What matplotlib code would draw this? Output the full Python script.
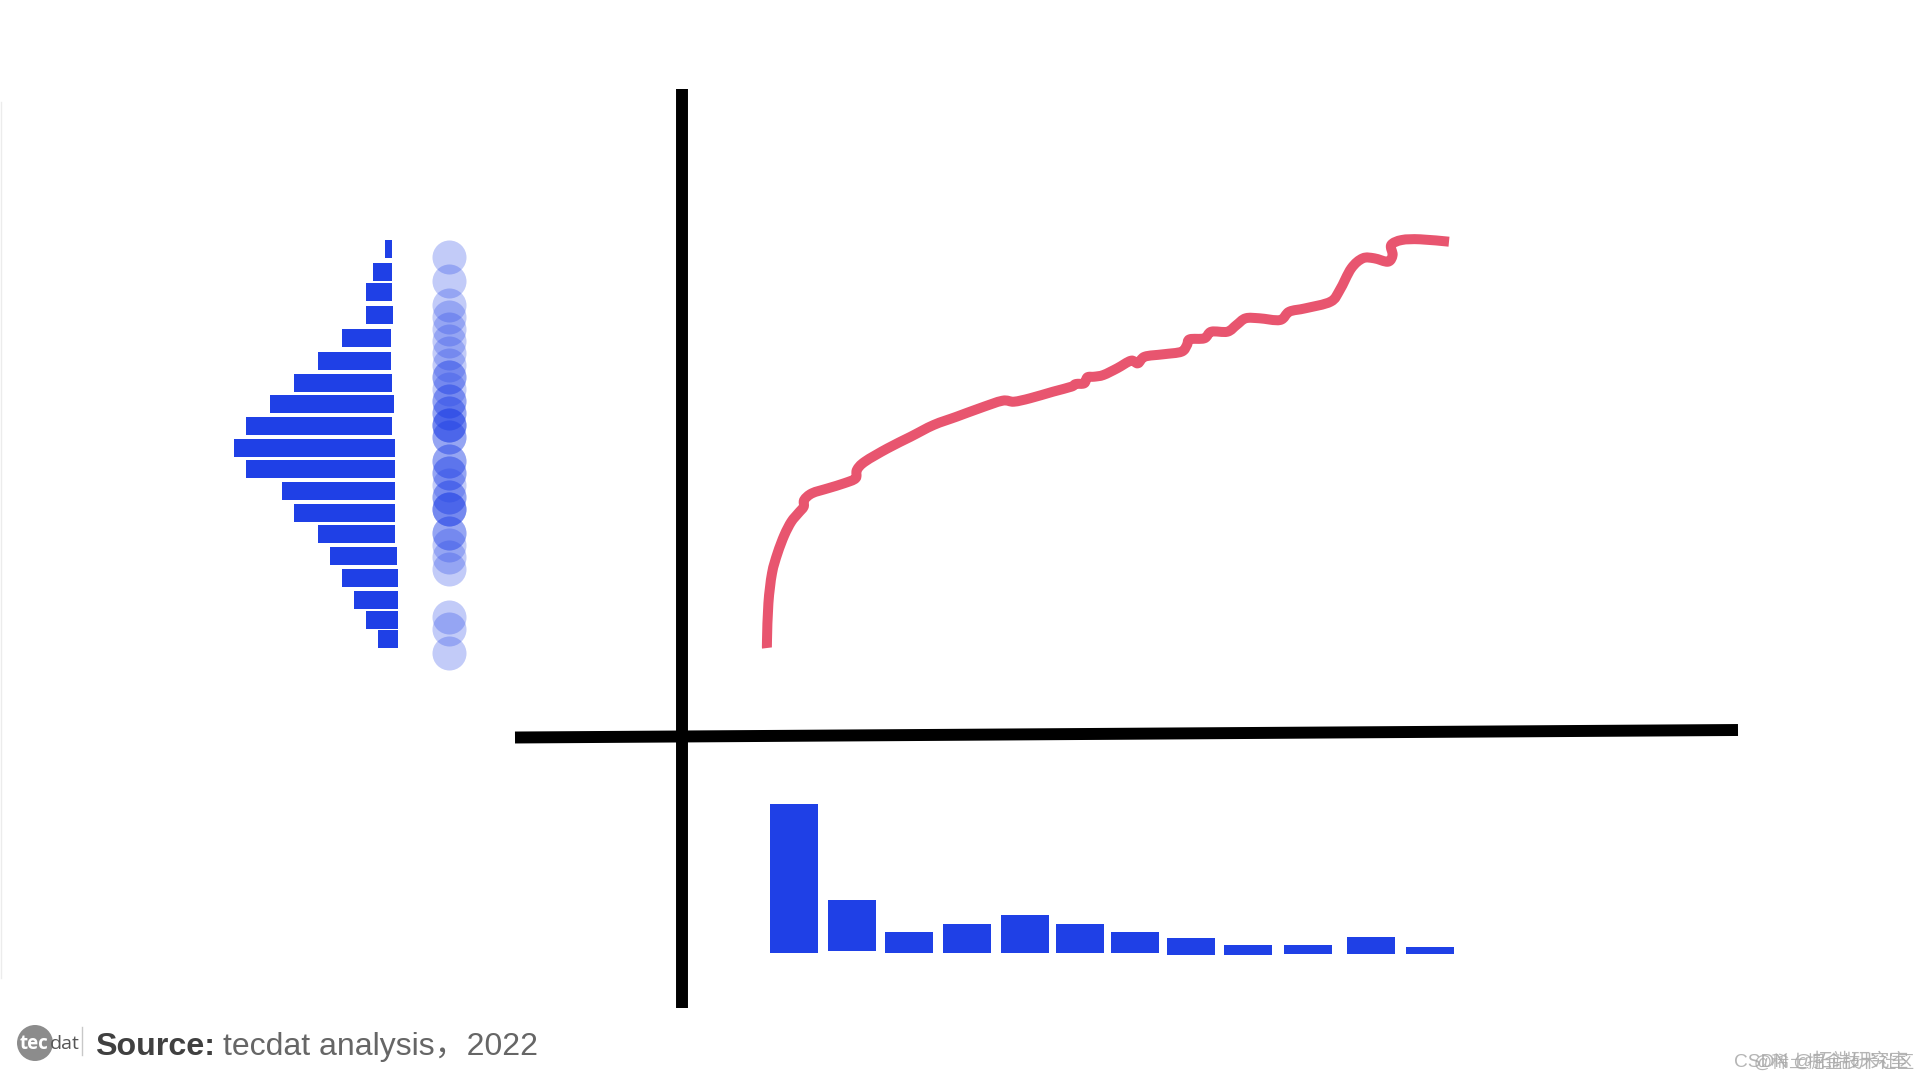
import matplotlib
matplotlib.use("Agg")
import matplotlib.pyplot as plt
from matplotlib.patches import Circle, PathPatch
from matplotlib.path import Path

# ---- data ----
hist_score = [431, 408, 387.7, 364.7, 342, 319, 297, 275.7, 254, 232, 210.7, 189, 167, 146, 124, 102, 80, 60, 41]
hist_count = [0.58, 1.58, 2.17, 2.25, 4.08, 6.08, 8.17, 10.33, 12.17, 13.42, 12.42, 9.42, 8.42, 6.42, 5.58, 4.67, 3.67, 2.67, 1.67]
hist_shift = [0.67, 0.67, 0.67, 0.58, 0.75, 0.75, 0.67, 0.5, 0.67, 0.42, 0.42, 0.42, 0.42, 0.42, 0.25, 0.17, 0.17, 0.17, 0.17]
strip_score = [423, 399, 375, 363, 351, 339, 327, 315, 303, 303, 291, 279, 279, 267, 267, 255, 255, 255, 243, 243, 219, 219, 207, 207, 195,
               183, 183, 171, 171, 171, 147, 147, 135, 123, 111, 63, 51, 27]
line_x = [85, 85, 86.4, 90, 95.5, 102.4, 109.3, 116.2, 121.7, 122.2, 130, 146, 162.1, 173.6, 174.9, 182.8, 205.7, 228.7, 251.6, 274.6,
          297.5, 320.5, 331.9, 348, 371, 389.3, 393.9, 402.2, 405.4, 412.3, 421.4, 435.2, 449, 455.9, 462.7, 481.1, 499.5, 505, 507.7,
          522.4, 529.3, 545.4, 554.5, 563.7, 577.5, 598.1, 607.3, 623.4, 648.6, 657.8, 669.3, 680.8, 692.2, 706, 710.6, 709.2, 719.8,
          738.1, 767]
line_y = [86, 94, 130.7, 160.7, 180.7, 199, 212.3, 220.7, 227.3, 234, 240.7, 245.7, 250.7, 255.7, 264, 272.3, 285.7, 297.3, 309, 317.3,
          325.7, 333.3, 332.3, 335.7, 342.3, 347.3, 350, 350.7, 356.7, 357.3, 359, 365.7, 373.3, 370.7, 377.3, 379.7, 382.3, 389, 394.7,
          395.7, 402.3, 402.3, 409, 415.7, 415.7, 414, 422.3, 425.7, 432.3, 444, 465.7, 475.7, 475.7, 472.3, 479, 489, 494, 494.7, 492.3]
bar_x = [112, 169.9, 227, 285, 343, 398, 453, 509, 566, 626, 689, 748]
bar_height = [149, 51, 21, 29, 38, 29, 21, 17, 10, 9, 17, 7]
bar_base = [-219, -217, -219, -219, -219, -219, -219, -221, -221, -220, -220, -220]
axis_x_line = [-167, 1056]
axis_x_level = [-3.5, 4]
axis_y_line = [-274, 645]

source_bold = "Source:"
source_text = "tecdat analysis，2022"
logo_left = "tec"
logo_right = "dat"
mark_one = "CSDN @拓端研究室"
mark_two = "@稀土掘金技术社区"

BLUE = "#1F40E6"
RED = "#E8556F"
W, H = 1920, 1080
FONT = ["Liberation Sans", "Noto Sans CJK SC", "DejaVu Sans"]
plt.rcParams["font.family"] = FONT

fig = plt.figure(figsize=(19.2, 10.8), dpi=100, facecolor="white")


def panel(x0, y0, x1, y1):
    ax = fig.add_axes([x0 / W, 1 - y1 / H, (x1 - x0) / W, (y1 - y0) / H])
    ax.axis("off")
    return ax


def smooth_path(xs, ys, k=1 / 6):
    """Bezier path through the points, as a smoothed line is drawn."""
    pts = list(zip(xs, ys))
    verts, codes = [pts[0]], [Path.MOVETO]
    for i in range(len(pts) - 1):
        p0 = pts[max(i - 1, 0)]
        p1 = pts[i]
        p2 = pts[i + 1]
        p3 = pts[min(i + 2, len(pts) - 1)]
        c1 = (p1[0] + (p2[0] - p0[0]) * k, p1[1] + (p2[1] - p0[1]) * k)
        c2 = (p2[0] - (p3[0] - p1[0]) * k, p2[1] - (p3[1] - p1[1]) * k)
        verts += [c1, c2, p2]
        codes += [Path.CURVE4] * 3
    return Path(verts, codes)


# histogram: 12 px per count, 1 px per score unit, score 0 at y = 680
ax_h = panel(200, 220, 400, 680)
ax_h.set_xlim(200 / 12, 0)
ax_h.set_ylim(0, 460)
ax_h.barh(hist_score, hist_count, left=hist_shift, height=18.3, color=BLUE, linewidth=0)

# strip of circles
ax_s = panel(420, 220, 480, 680)
ax_s.set_xlim(0, 1)
ax_s.set_ylim(0, 460)
ax_s.scatter([0.483] * len(strip_score), strip_score, s=600, color=BLUE, alpha=0.27, linewidths=0, clip_on=False)

# main panel: origin at the crossing of the axes
ax_m = panel(515, 89, 1738, 1008)
ax_m.set_xlim(axis_x_line)
ax_m.set_ylim(axis_y_line)
ax_m.add_patch(PathPatch(smooth_path(line_x, line_y), fill=False, edgecolor=RED, lw=7.2,
                         joinstyle="round", capstyle="butt", clip_on=False))
ax_m.bar(bar_x, bar_height, bottom=bar_base, width=47.7, color=BLUE, linewidth=0)
ax_m.plot(axis_x_line, axis_x_level, color="black", lw=8.6, solid_capstyle="butt", clip_on=False)
ax_m.plot([0, 0], axis_y_line, color="black", lw=8.6, solid_capstyle="butt", clip_on=False)

# faint rule at the left edge
fig.add_artist(plt.Line2D([0.6 / W, 0.6 / W], [1 - 102 / H, 1 - 978 / H], color="#ececec", lw=1))

# footer
fig.add_artist(Circle((35 / W * 19.2 * 100, (1 - 1043 / H) * 1080), 18, color="#8c8c8c", lw=0,
                      transform=None))
fig.text(20 / W, 1 - 1049 / H, logo_left, color="white", fontsize=13.5, fontweight="bold", family=["Open Sans"] + FONT)
fig.text(50 / W, 1 - 1049 / H, logo_right, color="#555555", fontsize=14, family=["Open Sans"] + FONT)
fig.add_artist(plt.Line2D([82 / W, 82 / W], [1 - 1027 / H, 1 - 1055 / H], color="#c8c8c8", lw=1))
fig.text(95 / W, 1 - 1055 / H, source_bold, color="#404040", fontsize=23.2, fontweight="bold")
fig.text(223 / W, 1 - 1055 / H, source_text, color="#666666", fontsize=23.0)

# overlaid watermarks
fig.text(1734 / W, 1 - 1067 / H, mark_one, color="#a8a8a8", fontsize=13.8, alpha=0.85)
fig.text(1754 / W, 1 - 1068 / H, mark_two, color="#a8a8a8", fontsize=12.9, alpha=0.85)

fig.savefig("out.png", dpi=100, facecolor="white")
